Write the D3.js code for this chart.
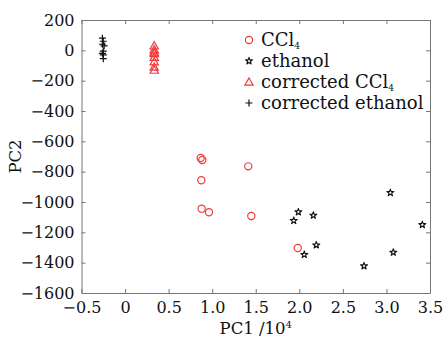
<!DOCTYPE html>
<html>
<head>
<meta charset="utf-8">
<script src="https://cdn.jsdelivr.net/npm/d3@7"></script>
<style>
  body { margin: 0; background: #fff; }
  text { font-family: "DejaVu Serif", "Liberation Serif", serif; fill: #111; }
</style>
</head>
<body>
<script>
// values (PC1 in units of 10^4)
const ccl4X = [0.868, 0.886, 1.414, 0.875, 0.879, 0.963, 1.449, 1.982];
const ccl4Y = [-710, -723, -765, -857, -1044, -1068, -1092, -1303];
const ethanolX = [3.045, 1.989, 2.161, 1.936, 3.412, 2.195, 3.079, 2.057, 2.743];
const ethanolY = [-939, -1066, -1088, -1123, -1150, -1284, -1332, -1347, -1422];
const corrCcl4X = [0.335, 0.335, 0.335, 0.335, 0.335, 0.335, 0.335, 0.335];
const corrCcl4Y = [30, 5, -10, -20, -45, -75, -110, -130];
const corrEthX = [-0.26, -0.25, -0.26, -0.24, -0.25, -0.26, -0.25, -0.25];
const corrEthY = [80, 60, 40, 30, -5, -20, -30, -55];
const xTicks = [-0.5, 0, 0.5, 1.0, 1.5, 2.0, 2.5, 3.0, 3.5];
const yTicks = [200, 0, -200, -400, -600, -800, -1000, -1200, -1400, -1600];

const width = 446, height = 338;
const margin = {top: 20, right: 16, bottom: 45, left: 81.5};
const red = '#ee3a3a';
const serif = '"DejaVu Serif", "Liberation Serif", serif';

const svg = d3.select('body').append('svg')
  .attr('width', width)
  .attr('height', height);

const x = d3.scaleLinear().domain([-0.5, 3.5]).range([margin.left, width - margin.right]);
const y = d3.scaleLinear().domain([-1600, 200]).range([height - margin.bottom, margin.top]);

const fmtX = d => (d === 0 ? '0' : d3.format('.1f')(d)).replace('-', '\u2212');
const fmtY = d => String(d).replace('-', '\u2212');

// frame with inward ticks on all four sides
const axisCol = '#777';
const gBottom = svg.append('g').attr('transform', `translate(0,${y.range()[0]})`)
  .call(d3.axisBottom(x).tickValues(xTicks).tickSizeInner(-4).tickSizeOuter(0).tickPadding(8).tickFormat(fmtX));
const gTop = svg.append('g').attr('transform', `translate(0,${y.range()[1]})`)
  .call(d3.axisTop(x).tickValues(xTicks).tickSizeInner(-4).tickSizeOuter(0).tickFormat(''));
const gLeft = svg.append('g').attr('transform', `translate(${x.range()[0]},0)`)
  .call(d3.axisLeft(y).tickValues(yTicks).tickSizeInner(-4).tickSizeOuter(0).tickPadding(7).tickFormat(fmtY));
const gRight = svg.append('g').attr('transform', `translate(${x.range()[1]},0)`)
  .call(d3.axisRight(y).tickValues(yTicks).tickSizeInner(-4).tickSizeOuter(0).tickFormat(''));

[gBottom, gTop, gLeft, gRight].forEach(g => {
  g.attr('font-family', serif);
  g.selectAll('path, line').attr('stroke', axisCol).attr('stroke-width', 1);
  g.selectAll('text').style('font-family', serif).style('font-size', '16px').attr('fill', '#111');
});
gBottom.selectAll('text').attr('dy', '0.72em');
gLeft.selectAll('text').attr('dy', '0.33em');

// axis titles
const xt = svg.append('text')
  .attr('x', (x.range()[0] + x.range()[1]) / 2)
  .attr('y', 334)
  .attr('text-anchor', 'middle')
  .style('font-size', '16.5px');
xt.append('tspan').text('PC1 /10');
xt.append('tspan').text('4').attr('dy', -6).style('font-size', '10px');

svg.append('text')
  .attr('transform', `translate(21,${(y.range()[0] + y.range()[1]) / 2}) rotate(-90)`)
  .attr('text-anchor', 'middle')
  .style('font-size', '16.5px')
  .text('PC2');

// markers
const star = d3.symbol().type(d3.symbolStar).size(15);
const tri = d3.symbol().type(d3.symbolTriangle).size(30);
const plus = s => `M${-s},0H${s}M0,${-s}V${s}`;

const pts = (xs, ys) => xs.map((v, i) => [v, ys[i]]);

function drawCircle(g, cx, cy) {
  g.append('circle').attr('cx', cx).attr('cy', cy).attr('r', 3.6)
    .attr('fill', 'none').attr('stroke', red).attr('stroke-width', 1.2);
}
function drawStar(g, cx, cy) {
  g.append('path').attr('d', star).attr('transform', `translate(${cx},${cy})`)
    .attr('fill', '#fff').attr('stroke', '#111').attr('stroke-width', 1.1)
    .attr('stroke-linejoin', 'round');
}
function drawTri(g, cx, cy) {
  g.append('path').attr('d', tri).attr('transform', `translate(${cx},${cy + 0.8})`)
    .attr('fill', 'none').attr('stroke', red).attr('stroke-width', 1.2);
}
function drawPlus(g, cx, cy) {
  g.append('path').attr('d', plus(3.5)).attr('transform', `translate(${cx},${cy})`)
    .attr('fill', 'none').attr('stroke', '#111').attr('stroke-width', 1.2);
}

const marks = svg.append('g');
pts(corrEthX, corrEthY).forEach(d => drawPlus(marks, x(d[0]), y(d[1])));
pts(corrCcl4X, corrCcl4Y).forEach(d => drawTri(marks, x(d[0]), y(d[1])));
pts(ccl4X, ccl4Y).forEach(d => drawCircle(marks, x(d[0]), y(d[1])));
pts(ethanolX, ethanolY).forEach(d => drawStar(marks, x(d[0]), y(d[1])));

// legend
const legend = svg.append('g');
const rows = [
  {draw: drawCircle, label: 'CCl', sub: '4'},
  {draw: drawStar, label: 'ethanol'},
  {draw: drawTri, label: 'corrected CCl', sub: '4'},
  {draw: drawPlus, label: 'corrected ethanol'}
];
rows.forEach((r, i) => {
  const cy = 40 + i * 21;
  r.draw(legend, 249, cy);
  const t = legend.append('text').attr('x', 261).attr('y', cy + 6).style('font-size', '18px');
  t.append('tspan').text(r.label);
  if (r.sub) t.append('tspan').text(r.sub).attr('dy', 3).style('font-size', '9px');
});
</script>
</body>
</html>
